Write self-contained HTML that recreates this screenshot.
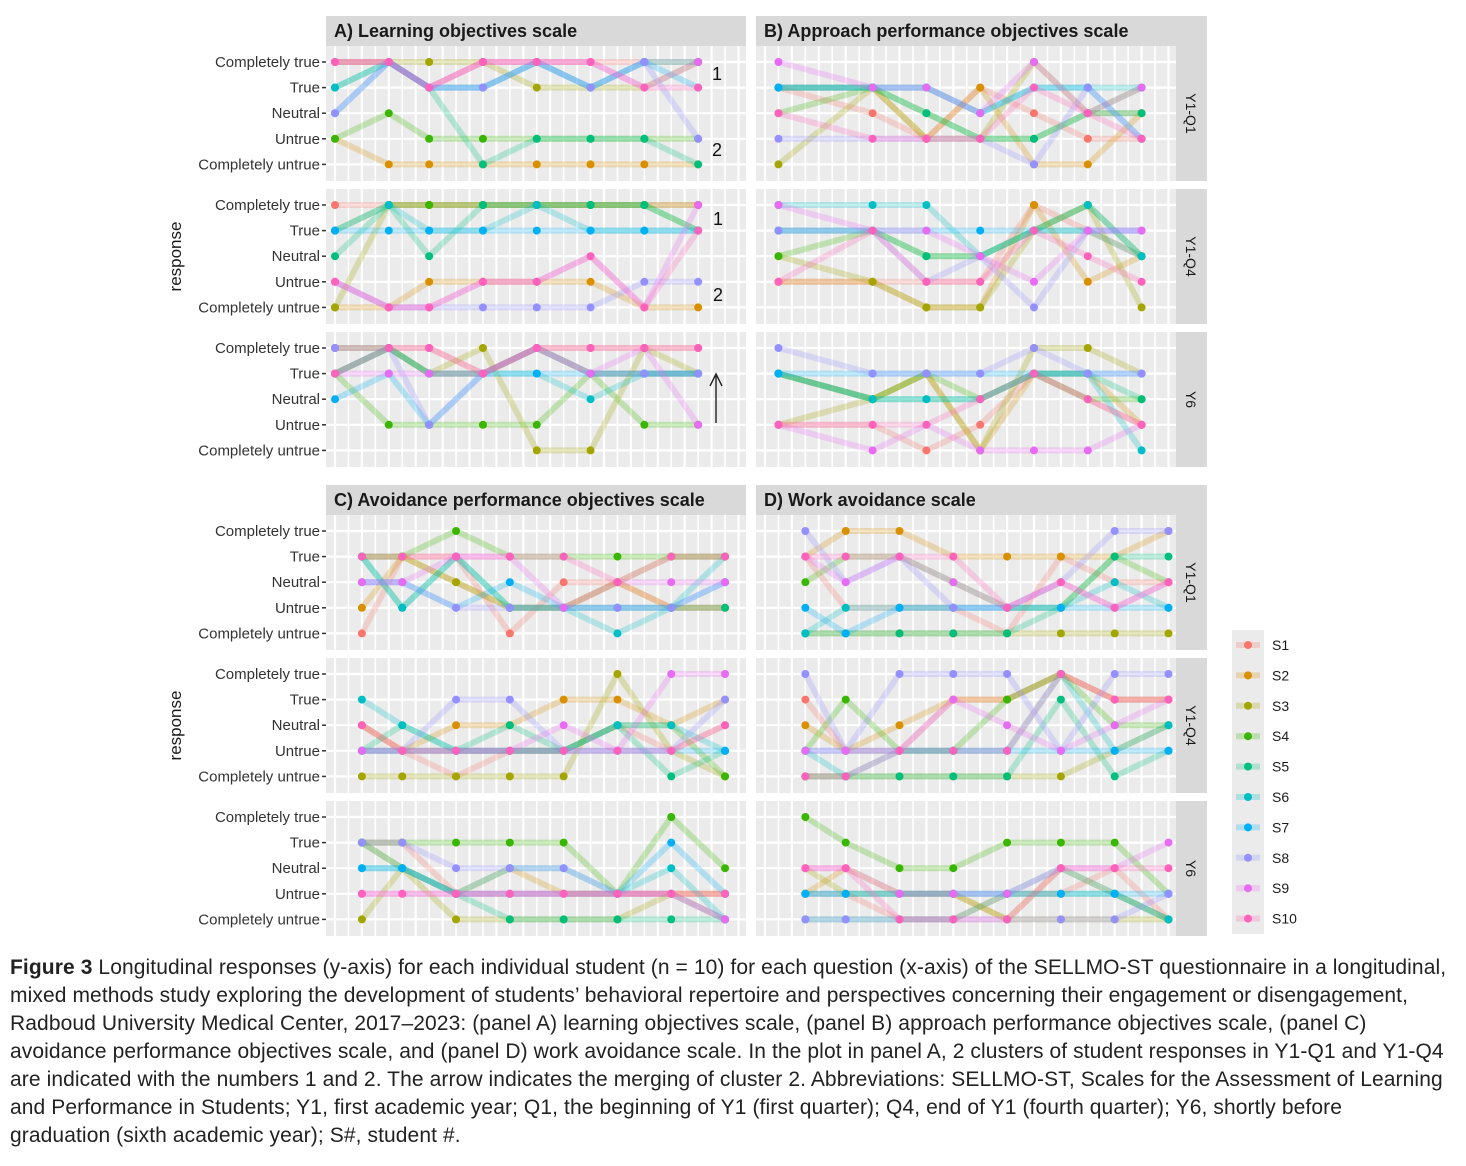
<!DOCTYPE html>
<html><head><meta charset="utf-8"><style>
body{margin:0;background:#fff;width:1466px;height:1166px;overflow:hidden;font-family:"Liberation Sans",sans-serif}
#cap{position:absolute;left:10px;top:954px;width:1456px;font-size:21px;line-height:28px;color:#222;font-family:"Liberation Sans",sans-serif;letter-spacing:0.1px;white-space:nowrap}
</style></head><body>
<svg id="chart" width="1466" height="950" style="position:absolute;left:0;top:0" xmlns="http://www.w3.org/2000/svg"></svg>
<div id="cap"><b>Figure 3</b> Longitudinal responses (y-axis) for each individual student (n = 10) for each question (x-axis) of the SELLMO-ST questionnaire in a longitudinal,<br>mixed methods study exploring the development of students’ behavioral repertoire and perspectives concerning their engagement or disengagement,<br>Radboud University Medical Center, 2017–2023: (panel A) learning objectives scale, (panel B) approach performance objectives scale, (panel C)<br>avoidance performance objectives scale, and (panel D) work avoidance scale. In the plot in panel A, 2 clusters of student responses in Y1-Q1 and Y1-Q4<br>are indicated with the numbers 1 and 2. The arrow indicates the merging of cluster 2. Abbreviations: SELLMO-ST, Scales for the Assessment of Learning<br>and Performance in Students; Y1, first academic year; Q1, the beginning of Y1 (first quarter); Q4, end of Y1 (fourth quarter); Y6, shortly before<br>graduation (sixth academic year); S#, student #.</div>
<script>
const students=["S1","S2","S3","S4","S5","S6","S7","S8","S9","S10"];
const colors=["#F8766D","#D89000","#A3A500","#39B600","#00BF7D","#00BFC4","#00B0F6","#9590FF","#E76BF3","#FF62BC"];
const levels=["Completely untrue","Untrue","Neutral","True","Completely true"];
const periods=["Y1-Q1","Y1-Q4","Y6"];
const qA=[0,4,7,11,15,19,23,27];
const qB=[1,8,12,16,20,24,28];
const qC=[2,5,9,13,17,21,25,29];
const qD=[3,6,10,14,18,22,26,30];
const A_Q1=[[5,5,4,5,5,5,5,5],[2,1,1,1,1,1,1,1],[5,5,5,5,4,4,4,5],[2,3,2,2,2,2,2,2],[4,5,4,1,2,2,2,1],[4,5,4,4,5,4,5,5],[3,5,4,4,5,4,5,4],[3,5,4,4,5,4,5,2],[5,5,4,5,5,5,4,5],[5,5,4,5,5,5,4,4]];
const A_Q4=[[5,5,5,5,5,5,5,5],[1,1,2,2,2,2,1,1],[1,5,5,5,5,5,5,5],[4,5,5,5,5,5,5,4],[3,5,3,5,5,5,5,4],[4,5,4,4,5,4,4,4],[4,4,4,4,4,4,4,4],[2,1,1,1,1,1,2,2],[2,1,1,2,2,3,1,5],[2,1,1,2,2,3,1,4]];
const A_Y6=[[5,5,5,4,5,5,5,5],[4,5,4,4,5,4,4,4],[5,5,4,5,1,1,5,4],[4,2,2,2,2,4,2,2],[4,5,4,4,5,4,4,4],[4,5,4,4,4,3,4,4],[3,4,2,4,4,4,4,4],[5,5,2,4,5,4,4,4],[4,4,4,4,5,4,5,2],[4,5,5,4,5,5,5,5]];
const B_Q1=[[4,3,2,4,3,2,2],[4,4,2,4,1,1,3],[1,4,2,2,5,3,3],[3,4,3,2,2,3,4],[4,4,3,2,2,3,3],[4,4,4,3,4,4,4],[4,4,4,3,4,4,2],[2,2,2,2,1,4,2],[5,4,4,3,5,3,4],[3,2,2,2,4,3,2]];
const B_Q4=[[2,2,2,2,5,4,3],[2,2,1,1,5,2,3],[3,2,1,1,4,5,1],[3,4,3,3,4,5,3],[4,4,3,3,4,4,3],[5,5,5,3,4,5,3],[4,4,4,4,4,4,4],[4,4,2,3,1,4,4],[5,4,4,3,2,4,4],[2,4,2,2,4,3,2]];
const B_Y6=[[2,2,1,2,4,3,2],[4,3,4,1,4,4,2],[2,3,4,1,5,5,4],[4,3,4,3,4,3,3],[4,3,3,3,4,4,3],[4,3,3,3,4,4,1],[4,4,4,4,4,4,4],[5,4,4,4,5,4,4],[2,1,2,1,1,1,2],[2,2,2,3,4,3,2]];
const C_Q1=[[1,4,4,1,3,3,2,2],[2,4,3,2,2,3,2,2],[4,4,3,2,2,3,4,4],[4,4,5,4,4,4,4,4],[4,2,4,2,2,2,2,2],[4,2,4,2,2,1,2,4],[3,3,2,3,2,2,2,3],[3,3,2,2,2,2,2,3],[3,3,4,4,2,3,3,3],[4,4,4,4,4,3,4,4]];
const C_Q4=[[3,2,1,2,2,3,2,3],[3,2,3,3,4,4,3,4],[1,1,1,1,1,5,2,1],[2,2,2,2,2,3,3,1],[2,3,2,3,2,3,1,2],[4,3,2,2,2,3,3,2],[2,2,2,2,2,2,2,2],[2,2,4,4,2,2,2,4],[2,2,2,2,3,2,5,5],[3,2,2,2,2,2,2,3]];
const C_Y6=[[4,4,2,2,2,2,2,2],[4,3,2,3,2,2,2,2],[1,3,1,1,1,1,2,1],[4,4,4,4,4,2,5,3],[4,3,2,1,1,1,1,1],[3,3,2,3,3,2,3,1],[3,3,2,2,2,2,4,2],[4,4,3,3,3,2,2,1],[2,2,2,2,2,2,2,1],[2,2,2,2,2,2,2,2]];
const D_Q1=[[4,2,2,2,1,4,3,3],[4,5,5,4,4,4,4,5],[1,1,1,1,1,1,1,1],[3,4,4,3,2,2,4,3],[1,1,1,1,1,2,4,4],[1,2,2,2,2,2,3,2],[2,1,2,2,2,2,2,2],[5,3,4,2,2,3,5,5],[4,3,4,3,2,3,2,3],[4,4,4,4,2,3,2,3]];
const D_Q4=[[4,2,2,4,4,5,4,4],[3,2,3,4,4,5,4,4],[1,1,1,1,1,1,2,3],[2,4,2,2,4,5,3,3],[1,1,1,1,1,4,1,2],[2,1,2,2,2,5,2,3],[2,2,2,2,2,2,2,2],[5,2,5,5,5,2,5,5],[2,2,2,4,3,2,3,4],[1,1,2,2,2,5,4,4]];
const D_Y6=[[2,2,1,1,2,2,3,1],[2,3,2,2,1,3,2,1],[3,2,2,2,1,1,1,1],[5,4,3,3,4,4,4,2],[1,1,1,1,2,2,2,1],[2,2,2,2,2,3,2,1],[2,2,2,2,2,2,2,2],[1,1,1,1,1,1,1,2],[3,3,2,2,2,3,3,4],[3,3,1,1,1,3,3,3]];

const svg=document.getElementById('chart');
const NS="http://www.w3.org/2000/svg";
function mk(tag,attrs,parent){const e=document.createElementNS(NS,tag);for(const k in attrs)e.setAttribute(k,attrs[k]);(parent||svg).appendChild(e);return e;}
function txt(s,attrs,parent){const e=mk('text',attrs,parent);e.textContent=s;return e;}

const panels=[
 {title:"A)  Learning objectives scale",left:326,top:16,q:qA,data:[A_Q1,A_Q4,A_Y6],labels:true,strip:false,name:"panel-a"},
 {title:"B)  Approach performance objectives scale",left:756,top:16,q:qB,data:[B_Q1,B_Q4,B_Y6],labels:false,strip:true,name:"panel-b"},
 {title:"C)  Avoidance performance objectives scale",left:326,top:485,q:qC,data:[C_Q1,C_Q4,C_Y6],labels:true,strip:false,name:"panel-c"},
 {title:"D)  Work avoidance scale",left:756,top:485,q:qD,data:[D_Q1,D_Q4,D_Y6],labels:false,strip:true,name:"panel-d"}];
const W=420, rowTops=[30,173,316], rowH=135;
const xS=(left,q)=>left+9+q*13.45;
const yS=(top,v)=>top+16+(5-v)*25.6;

panels.forEach(p=>{
  const g=mk('g',{});
  
  
  const hdrW=p.strip?451:W;
  const h=mk('rect',{x:p.left,y:p.top,width:hdrW,height:30,fill:'#d9d9d9'},g);
  
  
  const t=txt(p.title,{x:p.left+8,y:p.top+21,'font-size':18,'font-weight':'bold',fill:'#1a1a1a'},g);
  
  
  p.data.forEach((rows,ri)=>{
    const top=p.top+rowTops[ri];
    const bg=mk('rect',{x:p.left,y:top,width:W,height:rowH,fill:'#ebebeb'},g);
    
    
    for(let q=0;q<=30;q++){const x=xS(p.left,q);mk('line',{x1:x,x2:x,y1:top,y2:top+rowH,stroke:'#fff','stroke-width':q%2?1.6:2.2},g);}
    for(let v=1;v<=5;v++){const y=yS(top,v);mk('line',{x1:p.left,x2:p.left+W,y1:y,y2:y,stroke:'#fff','stroke-width':2.2},g);
      if(p.labels){const l=txt(levels[v-1],{x:p.left-6,y:y+5,'font-size':15,'text-anchor':'end',fill:'#333'},g);
        
        
        mk('line',{x1:p.left-4,x2:p.left,y1:y,y2:y,stroke:'#333','stroke-width':1.5},g);}
    }
    rows.forEach((vals,si)=>{
      const pts=vals.map((v,i)=>xS(p.left,p.q[i])+','+yS(top,v)).join(' ');
      const pl=mk('polyline',{points:pts,fill:'none',stroke:colors[si],'stroke-width':6,'stroke-opacity':0.25,'stroke-linejoin':'round'},g);
      
      
    });
    rows.forEach((vals,si)=>{
      vals.forEach((v,i)=>{
        const c=mk('circle',{cx:xS(p.left,p.q[i]),cy:yS(top,v),r:4,fill:colors[si]},g);
        
        
      });
    });
    if(p.strip){
      const s=mk('rect',{x:p.left+W,y:top,width:31,height:rowH,fill:'#d9d9d9'},g);
      
      
      const cx=p.left+W+15, cy=top+rowH/2;
      const st=txt(periods[ri],{x:cx,y:cy,'font-size':14,'text-anchor':'middle',fill:'#1a1a1a',transform:`rotate(90 ${cx} ${cy}) translate(0 5)`},g);
      
      
    }
  });
  if(p.labels){
    const cy=p.top+rowTops[1]+rowH/2;
    const r=txt('response',{x:175,y:cy,'font-size':17,'text-anchor':'middle',fill:'#1a1a1a',transform:`rotate(-90 175 ${cy}) translate(0 6)`},g);
    
    
  }
});
[["1",717,80],["2",717,156],["1",718,225],["2",718,301]].forEach(a=>{
  const t=txt(a[0],{x:a[1],y:a[2],'font-size':18,'text-anchor':'middle',fill:'#111'});
  
  
});
const ar=mk('line',{x1:716,y1:423,x2:716,y2:376,stroke:'#222','stroke-width':1.4});


mk('polyline',{points:'710,386 716,374 722,386',fill:'none',stroke:'#222','stroke-width':1.4});
const lg=mk('rect',{x:1232,y:630,width:32,height:304,fill:'#ebebeb'});


students.forEach((s,i)=>{
  const y=645+i*30.4;
  const g=mk('g',{});
  
  
  mk('line',{x1:1236,x2:1260,y1:y,y2:y,stroke:colors[i],'stroke-width':6,'stroke-opacity':0.25},g);
  mk('circle',{cx:1248,cy:y,r:4,fill:colors[i]},g);
  txt(s,{x:1272,y:y+5,'font-size':14,fill:'#1a1a1a'},g);
});
</script>
</body></html>
